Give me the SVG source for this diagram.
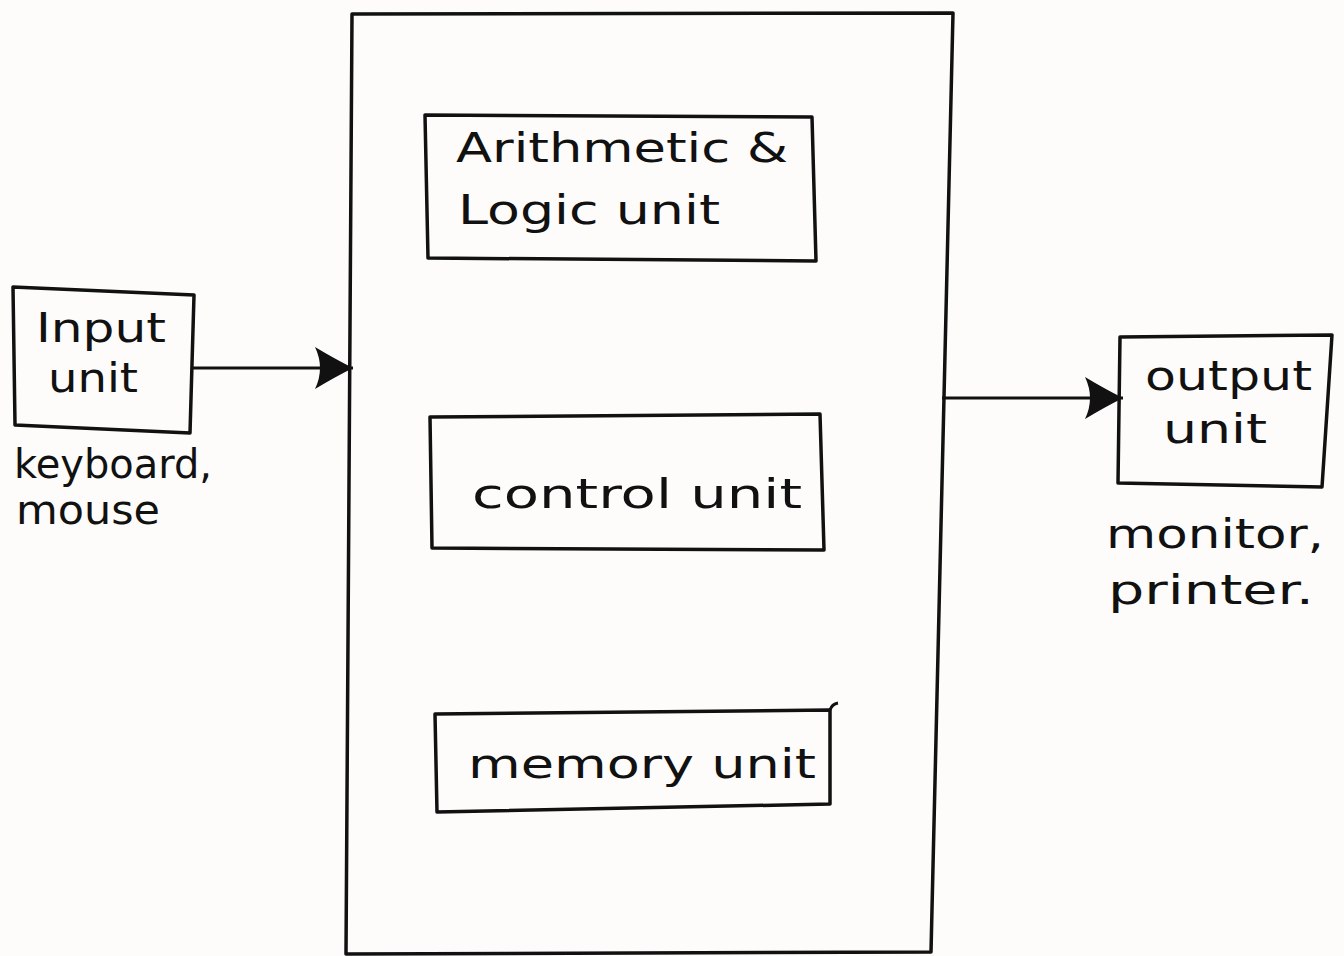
<svg xmlns="http://www.w3.org/2000/svg" width="1344" height="956" viewBox="0 0 1344 956">
  <style>
    .box { fill: none; stroke: #111; stroke-width: 3.5; stroke-linejoin: round; stroke-linecap: round; }
    .line { fill: none; stroke: #111; stroke-width: 3; }
    .t { font-family: "DejaVu Sans", "Liberation Sans", sans-serif; font-size: 40px; fill: #111; }
  </style>
  <defs>
    <marker id="arrow" markerUnits="userSpaceOnUse" markerWidth="40" markerHeight="44" refX="38" refY="21" orient="auto" viewBox="0 0 40 44">
      <path d="M0,0 Q20,12 38,21 Q20,30 0,42 Q10,21 0,0 Z" fill="#111"/>
    </marker>
  </defs>
  <rect width="1344" height="956" fill="#fdfcfa"/>

  <g id="cpu">
    <path class="box" d="M352,14 L953,13 L931,952 L346,954 Z"/>
  </g>

  <g id="alu">
    <path class="box" d="M425,115 L812,117 L816,261 L428,258 Z"/>
    <text class="t" x="456" y="162" textLength="332" lengthAdjust="spacingAndGlyphs">Arithmetic &amp;</text>
    <text class="t" x="458" y="224" textLength="262" lengthAdjust="spacingAndGlyphs">Logic unit</text>
  </g>

  <g id="control">
    <path class="box" d="M430,417 L820,414 L824,550 L432,548 Z"/>
    <text class="t" x="472" y="508" textLength="330" lengthAdjust="spacingAndGlyphs">control unit</text>
  </g>

  <g id="memory">
    <path class="box" d="M435,714 L830,710 L830,804 L437,812 Z"/>
    <path class="line" d="M830,710 Q832,704 838,703"/>
    <text class="t" x="468" y="778" textLength="348" lengthAdjust="spacingAndGlyphs">memory unit</text>
  </g>

  <g id="input">
    <path class="box" d="M13,287 L194,295 L190,433 L15,425 Z"/>
    <text class="t" x="36" y="342" textLength="130" lengthAdjust="spacingAndGlyphs">Input</text>
    <text class="t" x="48" y="392" textLength="90" lengthAdjust="spacingAndGlyphs">unit</text>
    <text class="t" x="14" y="478" textLength="198" lengthAdjust="spacingAndGlyphs">keyboard,</text>
    <text class="t" x="16" y="524" textLength="144" lengthAdjust="spacingAndGlyphs">mouse</text>
  </g>

  <g id="output">
    <path class="box" d="M1120,337 L1332,335 L1322,487 L1118,483 Z"/>
    <text class="t" x="1145" y="390" textLength="167" lengthAdjust="spacingAndGlyphs">output</text>
    <text class="t" x="1163" y="443" textLength="104" lengthAdjust="spacingAndGlyphs">unit</text>
    <text class="t" x="1106" y="548" textLength="218" lengthAdjust="spacingAndGlyphs">monitor,</text>
    <text class="t" x="1108" y="604" textLength="206" lengthAdjust="spacingAndGlyphs">printer.</text>
  </g>

  <g id="connectors">
    <path class="line" d="M192,368 L353,368" marker-end="url(#arrow)"/>
    <path class="line" d="M942,398 L1123,398" marker-end="url(#arrow)"/>
  </g>
</svg>
